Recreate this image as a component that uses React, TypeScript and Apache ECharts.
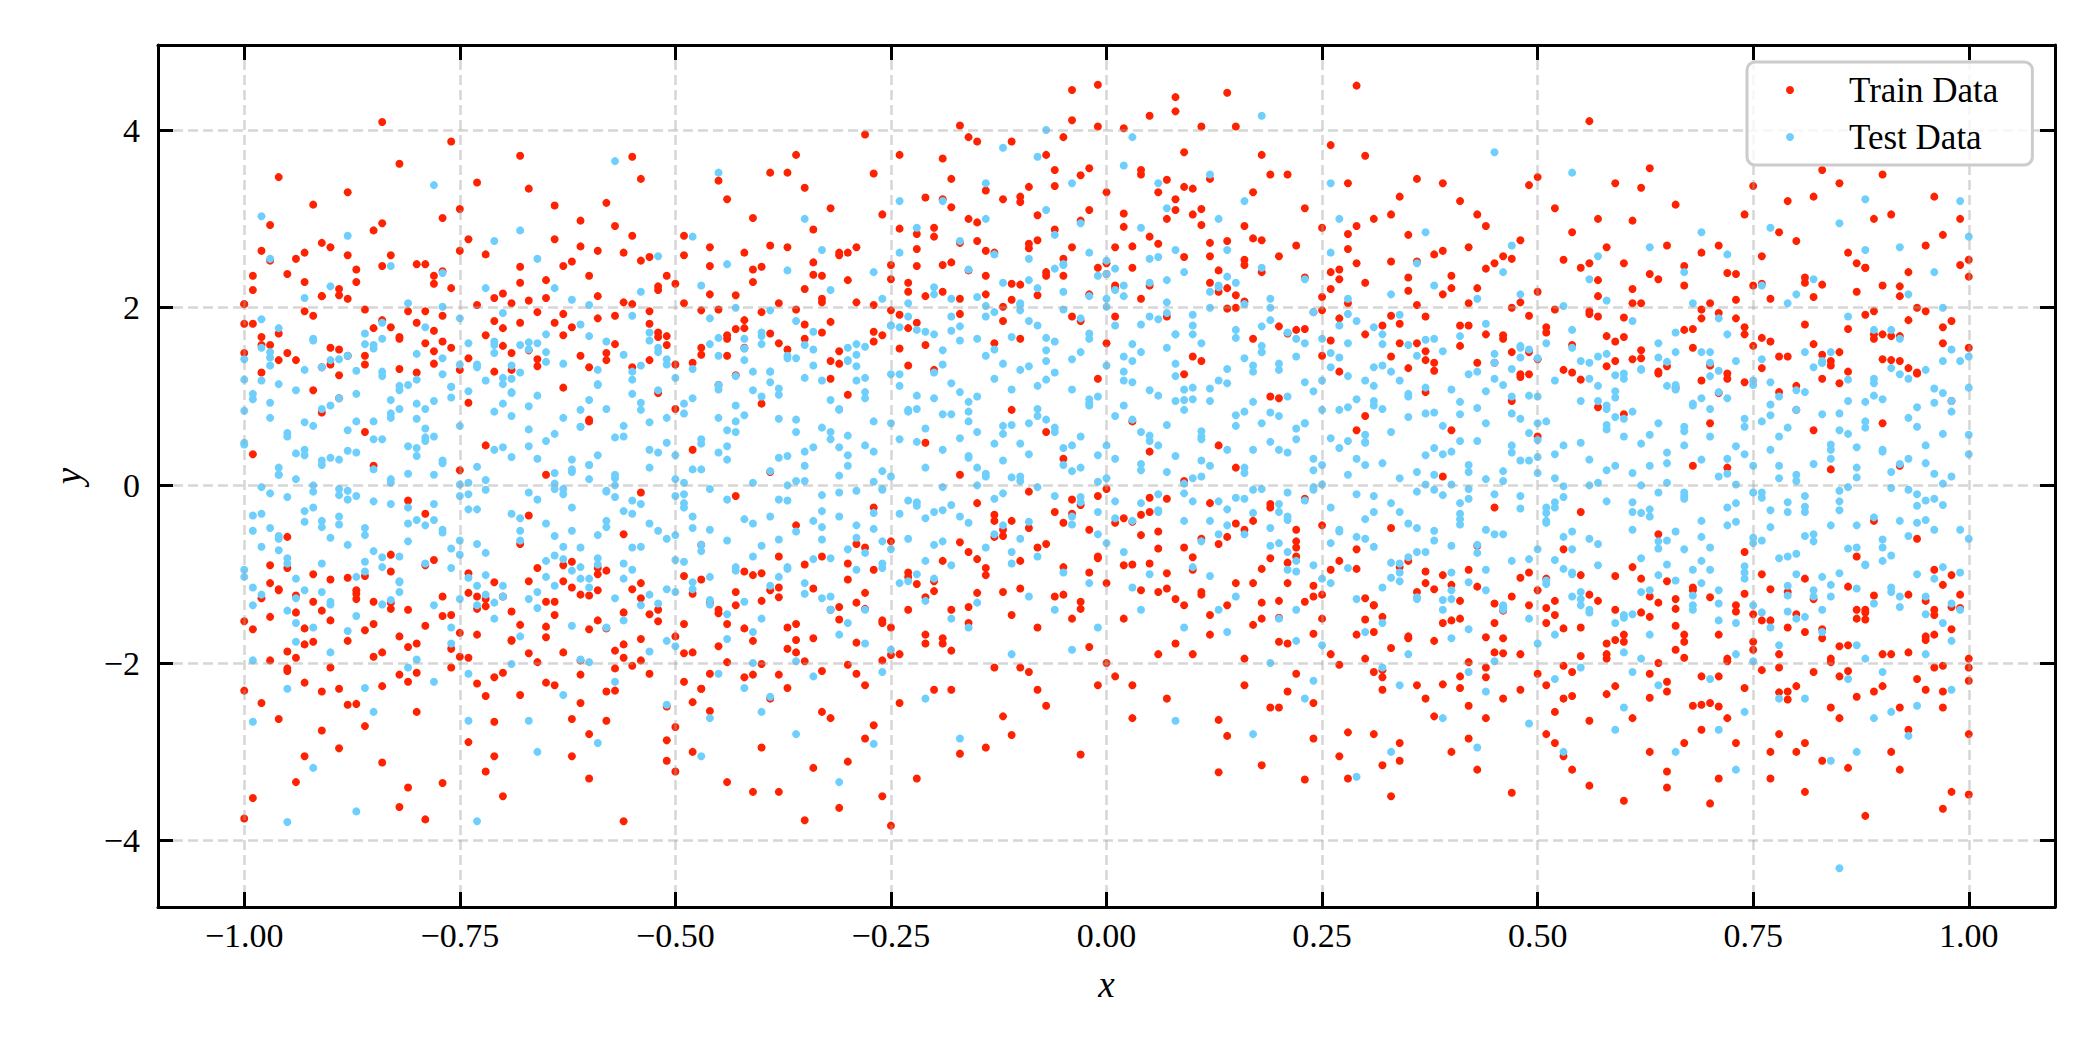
import { useEffect, useRef } from "react";
import * as echarts from "echarts";

// Values are in hundredths: [x, y, x, y, ...]
const trainXY: number[] = [
  -97,158,-92,-131,-100,204,-95,-187,-91,273,-98,-245,-94,141,-99,-162,-93,229,-96,-118,-91,-276,-99,182,-95,-209,-92,316,-97,-148,-94,255,-100,-231,-96,171,-93,-305,-98,127,-92,-176,-95,238,-91,-141,-99,-352,-97,293,-94,-194,-100,149,-96,-263,-93,196,-98,-127,-91,82,-95,-58,-99,35,-92,107,-97,-90,-94,-334,-96,347,-93,-222,-98,264,-100,-375,-91,213,
  -86,146,-83,-139,-89,221,-81,-182,-85,287,-88,-247,-82,167,-87,-118,-84,409,-90,-205,-83,259,-86,-163,-81,196,-89,-296,-85,-131,-88,330,-84,-226,-82,131,-87,243,-90,-152,-86,-271,-83,178,-81,-340,-89,153,-85,-193,-88,210,-82,-362,-84,295,-87,-128,-90,268,-86,60,-83,-78,-81,-17,-89,98,-85,22,-88,-104,-84,-312,-82,362,-87,-246,-90,136,
  -78,137,-74,-121,-80,249,-76,-205,-72,169,-79,-158,-75,311,-71,-266,-77,191,-73,-139,-80,-178,-76,222,-72,-237,-78,151,-74,277,-79,-376,-71,128,-75,-193,-77,-335,-73,341,-80,183,-76,-146,-72,-322,-78,236,-74,-289,-79,160,-71,-216,-75,264,-77,-125,-73,203,-80,-255,-76,387,-72,45,-78,-84,-74,93,-79,-32,-71,-305,-75,17,-77,301,-73,-168,
  -67,152,-63,-108,-70,216,-65,-171,-61,298,-68,-236,-64,183,-69,-142,-62,252,-66,-199,-70,-125,-67,334,-63,169,-60,-280,-65,231,-68,-157,-61,-213,-64,277,-69,130,-62,-263,-66,195,-70,-350,-67,-189,-63,247,-65,-131,-61,146,-68,371,-64,-225,-69,205,-62,-305,-66,-93,-60,74,-67,-34,-63,110,-65,12,-68,-66,-61,-245,-64,315,-69,-174,-62,178,
  -58,141,-54,-127,-60,236,-56,-194,-52,172,-59,-152,-55,281,-51,-249,-57,159,-53,-212,-60,-330,-56,206,-52,-140,-58,318,-54,-173,-59,188,-51,-287,-55,133,-57,-231,-53,257,-60,-162,-56,-378,-52,224,-58,-265,-54,345,-59,-118,-51,168,-55,-203,-57,292,-53,-145,-60,72,-56,-55,-52,104,-58,-96,-54,-8,-59,264,-51,-310,-55,370,-57,-186,-53,196,
  -47,147,-43,-135,-50,227,-45,-181,-41,301,-48,-244,-44,169,-49,-156,-42,262,-46,-212,-50,-322,-47,197,-43,-120,-41,-345,-45,343,-48,138,-44,-199,-49,281,-42,-161,-46,215,-50,-272,-47,-229,-43,176,-45,-144,-41,243,-48,-300,-44,322,-49,-189,-42,155,-46,-254,-50,86,-47,-67,-43,-12,-45,113,-41,-101,-48,40,-44,-334,-49,205,-46,268,-42,-216,
  -38,160,-34,-116,-40,246,-36,-188,-32,312,-39,-240,-35,181,-31,-151,-37,268,-33,-209,-40,-130,-36,372,-32,-262,-38,205,-34,-172,-39,352,-31,151,-35,-377,-37,-228,-33,236,-40,-295,-36,198,-32,-140,-38,-345,-34,288,-39,171,-31,-363,-35,-198,-37,352,-33,-255,-40,92,-36,-45,-32,120,-38,-80,-34,-318,-39,15,-31,262,-35,335,-37,-160,-33,210,
  -27,173,-23,-98,-30,262,-25,-160,-21,324,-28,-225,-24,192,-29,-132,-22,283,-26,-197,-30,-311,-27,351,-23,-140,-21,-178,-25,232,-28,395,-24,-245,-29,206,-22,-330,-26,305,-30,-106,-27,-270,-23,218,-25,-383,-21,158,-28,-121,-24,372,-29,-212,-22,247,-26,-152,-30,102,-27,-25,-23,135,-25,-63,-21,48,-28,-285,-24,-190,-29,268,-22,183,-26,-350,
  -17,210,-13,-58,-20,290,-15,-121,-11,387,-18,-186,-14,236,-19,-85,-12,322,-16,-155,-20,-230,-17,-302,-13,262,-11,-40,-15,387,-18,345,-14,-295,-19,248,-12,-260,-16,392,-20,-108,-17,405,-13,-205,-15,275,-11,-281,-18,-140,-14,215,-19,368,-12,185,-16,-75,-20,130,-17,12,-13,160,-15,-20,-11,85,-18,-230,-14,332,-19,-178,-12,-120,-16,300,
  -7,240,-3,-22,-10,325,-5,-92,-1,404,-8,-160,-4,268,-9,-48,-2,357,-6,-125,-10,-205,-7,-248,-3,298,-1,-82,-5,392,-1,451,-4,445,-9,272,-2,-182,-4,411,-10,-116,-7,372,-3,-303,-5,236,-1,-225,-8,-230,-4,190,-9,336,-2,215,-6,-30,-10,165,-7,60,-3,185,-5,30,-1,120,-8,-70,-4,-150,-9,-210,-2,310,-6,355,
  3,245,7,-15,0,330,5,-88,9,375,2,-150,6,272,1,-42,8,437,4,-118,0,-200,3,-262,7,300,9,-70,5,416,8,421,2,402,1,268,6,-190,4,350,0,-110,3,-225,7,-240,5,225,9,-135,2,-37,6,330,1,190,8,-178,4,-56,0,160,3,72,7,190,5,38,9,125,2,-90,6,-120,1,-215,8,310,4,210,
  13,218,17,-40,10,305,15,-110,19,350,12,-168,16,254,11,-60,18,372,14,-135,10,-190,13,-323,17,278,19,-82,15,404,11,404,14,442,12,228,16,-225,18,-315,10,-95,13,-264,17,330,15,200,19,-250,12,-20,16,292,11,140,18,-150,14,-282,10,145,13,45,17,165,15,20,19,100,12,345,16,-195,11,-120,18,240,14,275,
  23,176,27,-85,20,258,25,-150,29,450,22,-212,26,383,21,-110,28,205,24,-285,20,-130,23,-331,27,232,29,-72,25,290,21,350,24,-245,22,175,26,-190,28,-278,20,-250,23,312,27,-305,25,146,29,-168,22,-50,26,240,21,-232,28,340,24,-125,20,98,23,-15,27,128,25,-45,29,62,22,270,26,-95,21,-178,28,-330,24,195,
  33,145,37,-110,30,228,35,-172,39,340,32,-230,36,345,31,-135,38,260,34,-290,30,371,33,-350,37,190,39,-155,35,282,31,-210,34,160,32,-315,36,-120,38,-260,30,-195,33,305,37,-240,35,132,39,215,32,-148,36,252,31,-280,38,-175,34,325,30,78,33,-48,37,105,35,-85,39,10,32,180,36,-225,31,300,38,138,34,-310,
  43,138,47,-125,40,222,45,-188,49,338,42,-248,46,165,41,-150,48,276,44,-205,40,-300,43,305,47,-346,49,-135,45,250,41,180,44,-262,42,268,46,-172,48,-230,40,-112,43,-320,47,200,45,-155,49,150,42,-285,46,258,41,-215,48,125,44,292,40,62,43,-68,47,95,45,-25,49,-98,42,205,46,-240,41,320,48,-190,44,170,
  53,130,57,-130,50,218,55,-192,59,340,52,-255,56,410,51,-155,58,268,54,-210,50,347,53,-305,57,190,59,-140,55,245,51,-280,54,158,52,312,56,-338,58,-235,50,-118,53,-240,57,300,55,-160,59,140,52,-290,56,250,51,-225,58,-178,54,285,50,55,53,-72,57,88,55,-30,59,-102,52,198,56,-265,51,172,58,-195,54,-320,
  61,142,68,-118,64,232,60,-176,66,316,63,-239,69,188,62,-143,67,-290,65,270,60,-355,64,-200,68,155,61,-262,66,-128,63,357,69,-215,62,205,67,-168,65,-322,60,250,64,128,68,-248,61,298,66,-185,63,-300,69,262,62,-105,67,175,65,-232,60,80,64,-55,68,22,61,-92,66,110,63,-148,69,-275,62,335,67,225,65,-340,
  72,120,76,-152,70,205,74,-228,78,285,71,-168,75,337,79,-120,73,238,77,-300,70,-358,74,170,78,-205,72,-262,76,258,79,145,71,-330,75,-185,73,-135,77,210,70,-245,74,305,78,-280,72,-198,76,132,79,-232,71,270,75,-145,73,188,77,-330,70,70,74,-75,78,105,72,20,76,-100,79,320,71,-215,75,225,73,-290,77,162,
  84,135,80,-145,87,218,82,-210,89,300,81,-165,85,-262,83,355,88,-372,86,176,80,-300,84,-195,87,250,82,-128,89,-232,81,228,85,150,83,-310,88,192,86,-180,80,275,84,-250,87,-150,82,325,89,165,81,-290,85,-215,83,120,88,-140,86,262,80,85,84,18,87,-80,82,62,89,-40,81,-345,85,340,83,-172,88,245,86,-318,
  92,140,96,-140,90,225,94,-218,98,-345,91,305,95,-170,99,248,93,-275,97,160,90,-190,97,-364,98,185,92,-250,96,325,99,-123,91,-300,95,270,93,132,97,-232,90,350,94,200,98,-162,92,-320,96,-205,99,300,91,168,95,-130,93,-188,97,282,100,-280,100,155,100,-220,90,70,94,-60,98,95,92,22,96,-95,100,-348,93,240,97,-250,100,-195,100,235,
];

// Dense red band just outside the blue core, hundredths [x, y, ...]
const trainBand: number[] = [
  -91,133,-96,-117,-99,220,-93,-161,-98,158,-95,-206,-100,182,-92,-100,-97,253,-94,-143,-96,141,-91,-232,-100,204,-94,-124,-98,167,-93,-179,-99,236,-95,-93,-92,191,-97,-197,-95,149,-100,-153,-93,262,-97,-110,-91,213,
  -90,-106,-85,177,-82,-170,-88,146,-81,-221,-87,229,-83,-132,-89,124,-84,-188,-86,198,-83,-97,-88,259,-85,-156,-90,155,-82,-213,-86,136,-81,-140,-89,214,-87,-122,-84,247,-88,-175,-82,165,-86,-102,-84,186,-89,-229,
  -77,241,-72,-128,-80,127,-74,-194,-79,196,-71,-109,-76,155,-73,-223,-78,174,-75,-166,-72,260,-79,-90,-74,143,-77,-147,-71,211,-80,-211,-75,130,-73,-125,-78,227,-76,-184,-71,185,-74,-99,-79,249,-72,-136,-77,162,
  -64,-146,-69,149,-61,-197,-67,208,-63,-90,-70,177,-65,-222,-68,246,-62,-115,-66,134,-69,-175,-63,193,-67,-108,-61,269,-65,-159,-70,157,-62,-86,-68,228,-64,-131,-66,142,-70,-211,-65,211,-61,-123,-68,183,-63,-188,
  -60,133,-55,-117,-52,220,-58,-161,-51,158,-57,-206,-53,182,-59,-100,-54,253,-56,-143,-53,141,-58,-232,-55,204,-60,-124,-52,167,-56,-179,-51,236,-59,-93,-57,191,-54,-197,-58,149,-52,-153,-56,262,-54,-110,-59,213,
  -47,-106,-42,177,-50,-170,-44,146,-49,-221,-41,229,-46,-132,-43,124,-48,-188,-45,198,-42,-97,-49,259,-44,-156,-47,155,-41,-213,-50,136,-45,-140,-43,214,-48,-122,-46,247,-41,-175,-44,165,-49,-102,-42,186,-47,-229,
  -34,251,-39,-118,-31,137,-37,-184,-33,206,-40,-99,-35,165,-38,-213,-32,184,-36,-156,-39,270,-33,-80,-37,153,-31,-137,-35,221,-40,-201,-32,140,-38,-115,-34,237,-36,-174,-40,195,-35,-89,-31,259,-38,-126,-33,172,
  -21,-126,-26,169,-29,-177,-23,228,-28,-70,-25,197,-30,-202,-22,266,-27,-95,-24,154,-26,-155,-21,213,-30,-88,-24,289,-28,-139,-23,177,-29,-66,-25,248,-22,-111,-27,162,-25,-191,-30,231,-23,-103,-27,203,-21,-168,
  -17,193,-12,-57,-20,280,-14,-101,-19,218,-11,-146,-16,242,-13,-40,-18,313,-15,-83,-12,201,-19,-172,-14,264,-17,-64,-11,227,-20,-119,-15,296,-13,-33,-18,251,-16,-137,-11,209,-14,-93,-19,322,-12,-50,-17,273,
  -4,-16,-9,267,-1,-80,-7,236,-3,-131,-10,319,-5,-42,-8,214,-2,-98,-6,288,-9,-7,-3,349,-7,-66,-1,245,-5,-123,-10,226,-2,-50,-8,304,-4,-32,-6,337,-10,-85,-5,255,-1,-12,-8,276,-3,-139,
  9,336,4,-33,1,222,7,-99,2,291,5,-14,0,250,8,-128,3,269,6,-71,4,355,9,5,0,238,6,-52,2,306,7,-116,1,225,5,-30,8,322,3,-89,5,280,0,-4,7,344,3,-41,9,257,
  10,-81,15,214,18,-132,12,273,19,-25,13,242,17,-157,11,311,16,-50,14,199,17,-110,12,258,15,-43,10,334,18,-94,14,222,19,-21,11,293,13,-66,16,207,12,-146,18,276,14,-58,16,248,11,-123,
  26,163,21,-87,29,250,23,-131,27,188,20,-176,25,212,22,-70,28,283,24,-113,21,171,27,-202,23,234,29,-94,25,197,20,-149,28,266,22,-63,26,221,24,-167,20,179,25,-123,29,292,22,-80,27,243,
  39,-101,34,182,31,-165,37,151,32,-216,35,234,30,-127,38,129,33,-183,36,203,34,-92,39,264,30,-151,36,160,32,-208,37,141,31,-135,35,219,38,-117,33,252,35,-170,30,170,37,-97,33,191,39,-224,
  40,236,45,-133,48,122,42,-199,49,191,43,-114,47,150,41,-228,46,169,44,-171,47,255,42,-95,45,138,40,-152,48,206,44,-216,49,125,41,-130,43,222,46,-189,42,180,48,-104,44,244,46,-141,41,157,
  53,-161,58,134,50,-212,56,193,51,-105,59,162,54,-237,57,231,52,-130,55,119,58,-190,51,178,56,-123,53,254,59,-174,50,142,55,-101,57,213,52,-146,54,127,59,-226,56,196,51,-138,58,168,53,-203,
  69,118,64,-132,61,205,67,-176,62,143,65,-221,60,167,68,-115,63,238,66,-158,64,126,69,-247,60,189,66,-139,62,152,67,-194,61,221,65,-108,68,176,63,-212,65,134,60,-168,67,247,63,-125,69,198,
  70,-126,75,157,78,-190,72,126,79,-241,73,209,77,-152,71,104,76,-208,74,178,77,-117,72,239,75,-176,70,135,78,-233,74,116,79,-160,71,194,73,-142,76,227,72,-195,78,145,74,-122,76,166,71,-249,
  83,226,88,-143,80,112,86,-209,81,181,89,-124,84,140,87,-238,82,159,85,-181,88,245,81,-105,86,128,83,-162,89,196,80,-226,85,115,87,-140,82,212,84,-199,89,170,86,-114,81,234,88,-151,83,147,
  96,-168,91,141,100,-205,93,186,97,-112,90,170,95,-230,92,224,98,-137,94,126,91,-190,97,178,93,-123,100,254,95,-174,90,142,98,-101,92,213,96,-146,94,127,90,-226,95,196,99,-138,92,168,97,-203,
];

const testXY: number[] = [
  -96,12,-99,-34,-93,71,-91,-88,-98,118,-95,-141,-100,46,-92,165,-97,-9,-94,-176,-99,97,-91,28,-96,-57,-93,-118,-98,187,-95,59,-100,-103,-92,-25,-97,144,-94,-155,-99,-197,-91,133,-96,-73,-93,211,-98,-2,-95,-229,-100,84,-92,-160,-97,255,-94,36,-99,-266,-91,-120,-96,177,-93,-41,-98,303,-95,-379,-92,-318,-97,-48,
  -88,-6,-84,52,-81,-63,-87,103,-83,-129,-90,31,-85,158,-89,-44,-82,86,-86,-97,-84,183,-81,13,-88,-164,-83,-21,-87,129,-90,-188,-85,72,-82,-108,-89,142,-86,-228,-81,205,-84,-81,-88,39,-83,247,-87,-147,-90,-59,-85,-255,-82,112,-89,-11,-86,171,-81,-205,-84,-134,-88,281,-83,96,-87,-367,-90,224,-85,-18,
  -77,25,-73,-66,-80,119,-75,-12,-71,83,-78,-135,-74,160,-79,54,-72,-101,-76,-178,-80,-39,-73,136,-77,201,-71,-150,-75,67,-78,-221,-74,3,-79,178,-72,-76,-76,111,-80,-196,-73,-27,-77,239,-71,40,-75,-128,-78,95,-74,-265,-79,-88,-72,222,-76,-160,-80,148,-73,-378,-77,-53,-71,275,-75,188,-78,338,-74,-212,
  -66,30,-62,-51,-69,104,-64,-113,-60,168,-67,-8,-63,137,-68,-170,-61,66,-65,-85,-70,194,-66,-138,-62,15,-69,-32,-64,222,-67,89,-61,-196,-65,150,-68,-62,-63,-236,-70,43,-66,255,-62,-158,-69,120,-64,-4,-67,-265,-61,181,-65,-103,-68,287,-63,76,-70,-125,-66,-300,-62,209,-69,-201,-64,58,-67,161,-61,-70,
  -57,8,-53,71,-59,-56,-55,128,-51,-117,-58,162,-54,-21,-60,96,-56,-152,-52,37,-59,-89,-55,191,-51,-175,-57,54,-53,-43,-60,-199,-56,147,-52,-133,-58,-6,-54,218,-59,113,-51,-247,-55,-70,-57,-221,-53,172,-60,23,-56,-105,-52,258,-58,-160,-54,85,-59,-290,-55,-17,-51,136,-57,365,-53,-187,-60,203,
  -48,18,-44,-62,-50,121,-46,-129,-42,79,-49,-20,-45,166,-41,-165,-47,47,-43,-96,-50,-181,-46,188,-42,-38,-48,131,-44,-145,-49,92,-41,3,-45,-212,-47,225,-43,60,-50,-84,-46,-262,-42,154,-48,-117,-44,249,-49,-10,-41,-200,-45,108,-47,-305,-43,200,-50,34,-46,-50,-42,-228,-48,280,-44,-173,-45,352,
  -37,33,-33,-47,-39,128,-35,-110,-31,86,-38,-16,-34,173,-40,-150,-36,60,-32,-82,-39,197,-35,5,-31,-168,-37,143,-33,-127,-40,100,-36,-198,-32,220,-38,-61,-34,43,-39,-238,-35,158,-31,-8,-37,-92,-33,265,-40,-255,-36,185,-32,-140,-38,75,-34,-215,-31,-334,-35,300,-39,-35,-37,242,-33,118,-36,-280,
  -28,45,-24,-32,-30,140,-26,-88,-22,101,-29,-6,-25,180,-21,-130,-27,72,-23,-60,-30,-155,-26,210,-22,-19,-28,156,-24,-110,-29,118,-21,20,-25,-185,-27,240,-23,85,-30,-72,-26,-210,-22,175,-28,-140,-24,262,-29,-45,-21,-240,-25,125,-27,-291,-23,205,-30,56,-26,-4,-22,290,-28,-178,-24,320,-29,-95,
  -18,80,-14,10,-20,170,-16,-42,-12,137,-19,40,-15,212,-11,-88,-17,105,-13,-15,-20,-105,-16,243,-12,58,-18,190,-14,-70,-19,152,-11,68,-15,-132,-17,275,-13,120,-20,-30,-16,-160,-12,228,-18,-90,-14,300,-19,-2,-11,-190,-15,165,-17,-285,-13,260,-20,98,-16,33,-12,380,-18,-150,-14,340,-19,320,
  -8,112,-4,45,-10,205,-6,-12,-2,165,-9,70,-5,248,-1,-55,-7,140,-3,20,-10,-60,-6,282,-2,90,-8,222,-4,-35,-9,185,-1,100,-5,-98,-7,310,-3,150,-10,5,-6,-140,-2,262,-8,-80,-4,340,-9,35,-1,-160,-5,198,-7,400,-3,295,-10,130,-6,60,-2,-110,-8,370,-4,-185,-9,-125,
  2,118,6,45,0,210,4,-20,8,170,1,78,5,255,9,-40,3,140,7,15,0,-65,4,290,8,95,2,225,6,-30,1,180,9,108,5,-100,3,392,7,155,0,8,4,-140,8,265,2,-75,6,340,1,30,9,-160,5,190,3,-115,7,312,0,135,4,60,8,-265,2,360,6,-10,9,240,
  12,95,16,20,10,180,14,-45,18,150,11,52,15,228,19,-68,13,118,17,-5,10,-92,14,265,18,70,12,200,16,-55,11,160,19,82,15,-125,13,300,17,135,10,-18,14,-165,18,245,12,-102,16,320,11,10,19,-200,15,175,13,-140,17,-280,10,110,14,40,18,416,12,350,16,-15,19,210,
  22,52,26,-25,20,130,24,-90,28,88,21,-8,25,165,29,-128,23,70,27,-50,20,-150,24,195,28,12,22,145,26,-110,21,100,29,30,25,-180,23,232,27,85,20,-65,24,-220,28,160,22,-140,26,262,21,-35,29,-328,25,118,23,-240,27,300,20,40,24,-5,28,210,22,-175,26,340,21,-95,
  32,25,36,-48,30,118,34,-108,38,82,31,-12,35,158,39,-140,33,60,37,-75,30,-165,34,192,38,-5,32,135,36,-128,31,90,39,35,35,-190,33,215,37,110,30,-60,34,-225,38,165,32,-155,36,250,31,-30,39,-262,35,100,33,-300,37,285,30,48,34,-88,38,225,32,-205,36,15,31,178,
  42,15,46,-55,40,108,44,-118,48,75,41,-20,45,148,49,-150,43,50,47,-85,40,-172,44,182,48,-12,42,125,46,-135,41,80,49,28,45,-198,43,210,47,100,40,-68,44,-232,48,155,42,-162,46,240,41,-38,49,-268,45,375,43,-295,47,270,40,38,44,-95,48,215,42,-210,46,5,41,168,
  52,8,56,-60,50,100,54,-125,58,68,51,-25,55,140,59,-155,53,45,57,-90,50,-178,54,175,58,-18,52,118,56,-140,51,72,59,22,55,-205,53,202,57,95,50,-72,54,352,58,148,52,-168,56,232,51,-42,59,-275,55,95,53,-300,57,258,50,32,54,-100,58,208,52,-218,56,0,51,160,
  64,-8,60,55,67,-72,62,130,69,-110,65,25,61,-145,68,90,63,-35,66,172,60,-188,67,-15,62,-120,69,150,64,70,61,-210,66,-52,68,205,63,-168,65,112,60,-250,67,240,62,0,69,-85,64,-225,61,185,66,-300,68,-140,63,268,65,-62,60,120,67,45,62,-195,69,285,64,160,61,-30,
  73,-20,77,40,70,-95,75,118,79,-142,71,10,76,-62,72,170,78,-180,74,75,70,-218,77,-28,73,140,79,205,71,-118,75,-198,72,-45,78,100,74,-255,76,225,70,55,77,-160,73,-320,79,-80,71,188,75,22,78,-240,72,260,74,-105,76,-8,70,150,77,290,73,-190,79,65,71,-275,75,-135,
  81,-12,85,62,88,-90,83,138,80,-150,87,20,84,-45,89,175,82,-118,86,95,80,215,88,-195,84,40,81,-240,87,-70,83,-165,89,120,85,-28,82,232,86,-218,80,5,88,265,84,-125,81,150,87,-300,85,-431,83,80,89,-262,82,-55,86,190,80,-100,88,322,84,-310,81,105,87,-180,85,295,
  93,-5,97,58,90,-85,95,130,99,-140,91,15,96,-50,92,165,98,-175,94,88,90,-210,97,-22,93,215,99,140,91,-120,95,-190,92,-40,98,95,94,-248,96,240,90,40,97,-155,93,-282,99,320,91,175,95,25,98,-230,92,268,94,-100,96,-15,100,110,100,-60,100,35,97,200,91,-255,95,-125,100,280,
];

// Dense blue core, hundredths [x, y, ...]
const testCore: number[] = [
  -96,20,-91,-47,-99,103,-94,-105,-98,155,-92,0,-100,48,-95,-82,-97,135,-93,-29,-91,86,-98,-123,-94,7,-100,119,-96,-60,-92,67,-99,-135,-93,34,-97,150,-95,-13,-100,-95,-94,107,-91,-40,-97,76,-99,-115,-92,163,-96,12,-98,-69,-93,130,-95,55,-99,-51,-91,23,-94,-127,-97,93,-92,-7,-100,142,-95,-88,-93,40,-98,-32,-96,114,
  -83,3,-88,62,-85,-74,-90,141,-82,-120,-87,37,-81,-43,-89,98,-84,-92,-86,159,-88,-16,-83,81,-90,-131,-85,18,-81,113,-86,-56,-84,128,-89,-4,-82,-109,-87,72,-85,52,-82,-80,-88,146,-81,-25,-90,90,-83,7,-87,-103,-84,165,-89,29,-86,-48,-82,107,-90,-134,-87,-12,-84,123,-88,-67,-81,44,-86,-86,-83,76,-85,154,-89,-35,
  -79,86,-74,-10,-77,125,-72,-123,-80,33,-75,-62,-71,158,-78,-39,-73,21,-76,111,-74,-104,-79,50,-72,6,-77,143,-75,-78,-80,75,-71,-132,-76,99,-78,-21,-73,133,-77,-50,-71,162,-75,1,-79,64,-73,-113,-80,42,-76,-71,-72,118,-74,-27,-78,12,-71,149,-76,-93,-80,92,-73,-135,-77,28,-74,106,-79,-45,-75,136,-72,-5,-78,55,
  -62,-25,-67,153,-64,-79,-69,32,-61,85,-66,-120,-70,121,-63,-10,-68,-51,-65,170,-67,44,-62,-96,-69,105,-64,14,-70,-113,-61,66,-65,139,-68,-37,-63,-69,-66,160,-64,2,-70,92,-61,-105,-66,-16,-68,127,-62,29,-63,-83,-69,78,-67,-128,-65,50,-70,114,-64,-57,-68,158,-62,18,-65,-43,-69,135,-61,-92,-67,63,-66,101,-63,-4,
  -53,20,-58,-47,-55,103,-60,-105,-52,155,-57,0,-51,48,-59,-82,-54,135,-56,-29,-58,86,-53,-123,-60,7,-55,119,-51,-60,-56,67,-54,-135,-59,34,-52,150,-57,-13,-55,-95,-52,107,-58,-40,-51,76,-60,-115,-53,163,-57,12,-54,-69,-59,130,-56,55,-52,-51,-60,23,-57,-127,-54,93,-58,-7,-51,142,-56,-88,-53,40,-55,-32,-59,114,
  -49,3,-44,62,-47,-74,-42,141,-50,-120,-45,37,-41,-43,-48,98,-43,-92,-46,159,-44,-16,-49,81,-42,-131,-47,18,-45,113,-50,-56,-41,128,-46,-4,-48,-109,-43,72,-47,52,-41,-80,-45,146,-49,-25,-43,90,-50,7,-46,-103,-42,165,-44,29,-48,-48,-41,107,-46,-134,-50,-12,-43,123,-47,-67,-44,44,-49,-86,-45,76,-42,154,-48,-35,
  -32,96,-37,0,-34,135,-39,-113,-31,43,-36,-52,-40,168,-33,-29,-38,31,-35,121,-37,-94,-32,60,-39,16,-34,153,-40,-68,-31,85,-35,-122,-38,109,-33,-11,-36,143,-34,-40,-40,172,-31,11,-36,74,-38,-103,-32,52,-33,-61,-39,128,-37,-17,-35,22,-40,159,-34,-83,-38,102,-32,-125,-35,38,-39,116,-31,-35,-37,146,-36,5,-33,65,
  -26,-5,-21,173,-29,-59,-24,52,-28,105,-22,-100,-30,141,-25,10,-27,-31,-23,190,-21,64,-28,-76,-24,125,-30,34,-26,-93,-22,86,-29,159,-23,-17,-27,-49,-25,180,-30,22,-24,112,-21,-85,-27,4,-29,147,-22,49,-26,-63,-28,98,-23,-108,-25,70,-29,134,-21,-37,-24,178,-27,38,-22,-23,-30,155,-25,-72,-23,83,-28,121,-26,16,
  -19,80,-14,13,-17,163,-12,-45,-20,215,-15,60,-11,108,-18,-22,-13,195,-16,31,-14,146,-19,-63,-12,67,-17,179,-15,0,-20,127,-11,-75,-16,94,-18,210,-13,47,-17,-35,-11,167,-15,20,-19,136,-13,-55,-20,223,-16,72,-12,-9,-14,190,-18,115,-11,9,-16,83,-20,-67,-13,153,-17,53,-14,202,-19,-28,-15,100,-12,28,-18,174,
  -2,93,-7,152,-4,16,-9,231,-1,-30,-6,127,-10,47,-3,188,-8,-2,-5,249,-7,74,-2,171,-9,-41,-4,108,-10,203,-1,34,-5,218,-8,86,-3,-19,-6,162,-4,142,-10,10,-1,236,-6,65,-8,180,-2,97,-3,-13,-9,255,-7,119,-5,42,-10,197,-4,-44,-8,78,-2,213,-5,23,-9,134,-1,4,-7,166,-6,244,-3,55,
  4,181,9,85,1,220,6,-28,2,128,8,33,0,253,5,56,3,116,7,206,9,-9,2,145,6,101,0,238,4,17,8,170,1,-37,7,194,3,74,5,228,0,45,6,257,9,96,3,159,1,-18,8,137,4,24,2,213,7,68,5,107,1,244,9,2,6,187,3,-40,8,123,0,201,5,50,7,231,2,90,4,150,
  17,40,12,218,15,-14,10,97,18,150,13,-55,19,186,11,55,16,14,14,235,12,109,17,-31,10,170,15,79,19,-48,14,131,16,204,11,28,18,-4,13,225,15,67,18,157,12,-40,19,49,10,192,17,94,13,-18,16,143,11,-63,14,115,18,179,10,8,13,223,16,83,12,22,19,200,14,-27,17,128,15,166,11,61,
  28,50,23,-17,26,133,21,-75,29,185,24,30,20,78,27,-52,22,165,25,1,23,116,28,-93,21,37,26,149,20,-30,29,97,25,-105,22,64,27,180,24,17,26,-65,20,137,29,-10,24,106,22,-85,28,193,27,42,21,-39,23,160,25,85,20,-21,26,53,22,-97,28,123,25,23,21,172,29,-58,23,70,24,-2,27,144,
  34,8,39,67,31,-69,36,146,32,-115,38,42,30,-38,35,103,33,-87,37,164,39,-11,32,86,36,-126,30,23,34,118,38,-51,31,133,37,1,33,-104,35,77,30,57,36,-75,39,151,33,-20,31,95,38,12,34,-98,32,170,37,34,35,-43,31,112,39,-129,36,-7,33,128,38,-62,30,49,35,-81,37,81,32,159,34,-30,
  47,81,42,-15,45,120,40,-128,48,28,43,-67,49,153,41,-44,46,16,44,106,42,-109,47,45,40,1,45,138,49,-83,44,70,46,-137,41,94,48,-26,43,128,45,-55,48,157,42,-4,49,59,40,-118,47,37,43,-76,46,113,41,-32,44,7,48,144,40,-98,43,87,46,-140,42,23,49,101,44,-50,47,131,45,-10,41,50,
  51,-40,56,138,53,-94,58,17,50,70,55,-135,59,106,52,-25,57,-66,54,155,56,29,51,-111,58,90,53,-1,55,-128,50,51,59,124,54,-52,52,-84,57,145,53,-13,59,77,55,-120,51,-31,57,112,50,14,54,-98,58,63,56,-143,52,35,59,99,54,-72,50,143,57,3,53,-58,56,120,51,-107,55,48,58,86,52,-19,
  67,-12,62,47,65,-89,60,126,68,-135,63,22,69,-58,61,83,66,-107,64,144,62,-31,67,66,60,-146,65,3,69,98,64,-71,66,113,61,-19,68,-124,63,57,65,37,68,-95,62,131,69,-40,60,75,67,-8,63,-118,66,150,61,14,64,-63,68,92,60,-149,63,-27,66,108,62,-82,69,29,64,-101,67,61,65,139,61,-50,
  74,66,79,-30,71,105,76,-143,72,13,78,-82,70,138,75,-59,73,1,77,91,79,-124,72,30,76,-14,70,123,74,-98,78,55,71,-152,77,79,73,-41,75,113,70,-70,76,142,79,-19,73,44,71,-133,78,22,74,-91,72,98,77,-47,75,-8,71,129,79,-113,76,72,73,-155,78,8,70,86,75,-65,77,116,72,-25,74,35,
  87,-45,82,133,85,-99,80,12,88,65,83,-140,89,101,81,-30,86,-71,84,150,82,24,87,-116,80,85,85,-6,89,-133,84,46,86,119,81,-57,88,-89,83,140,85,-18,88,72,82,-125,89,-36,80,107,87,9,83,-103,86,58,81,-148,84,30,88,94,80,-77,83,138,86,-2,82,-63,89,115,84,-112,87,43,85,81,81,-24,
  98,10,93,-57,96,93,91,-115,100,145,94,-10,90,38,97,-92,92,125,95,-39,93,76,98,-133,91,-3,96,109,90,-70,100,57,95,-145,92,24,97,140,94,-23,96,-105,90,97,99,-50,94,66,92,-125,98,153,97,2,91,-79,93,120,95,45,90,-61,96,13,92,-137,98,83,95,-17,91,132,99,-98,93,30,94,-42,97,104,
];

const seriesNames = ["Train Data", "Test Data"];
const seriesColors = ["#ff2200", "#6ecffc"];
const xTicks = [-1, -0.75, -0.5, -0.25, 0, 0.25, 0.5, 0.75, 1];
const yTicks = [-4, -2, 0, 2, 4];
const xRange = [-1.1, 1.1];
const yRange = [-4.746, 4.957];

const FONT = "'Liberation Serif', 'Times New Roman', serif";

function toPairs(flat: number[]): number[][] {
  const out: number[][] = [];
  for (let i = 0; i + 1 < flat.length; i += 2) out.push([flat[i] / 100, flat[i + 1] / 100]);
  return out;
}

function fmtX(v: number): string {
  const t = xTicks.find((k) => Math.abs(k - v) < 1e-6);
  if (t === undefined) return "";
  const s = Math.abs(t).toFixed(2);
  return t < 0 ? "\u2212" + s : s;
}
function fmtY(v: number): string {
  const t = yTicks.find((k) => Math.abs(k - v) < 1e-6);
  if (t === undefined) return "";
  return t < 0 ? "\u2212" + Math.abs(t) : String(t);
}

export default function App() {
  const ref = useRef<HTMLDivElement>(null);
  useEffect(() => {
    document.body.style.margin = "0";
    if (!ref.current) return;
    const chart = echarts.init(ref.current, undefined, { renderer: "svg" });
    const axisLine = { show: true, onZero: false, lineStyle: { color: "#000", width: 3 } };
    const axisTick = { show: true, inside: true, length: 15, lineStyle: { color: "#000", width: 3 } };
    const splitLine = {
      show: true,
      showMinLine: false,
      showMaxLine: false,
      lineStyle: { color: "rgba(165,165,165,0.45)", width: 2.5, type: [10, 5] },
    };
    const xCommon = {
      type: "value",
      min: xRange[0],
      max: xRange[1],
      minInterval: 0.25,
      maxInterval: 0.25,
      z: 5,
    };
    const yCommon = {
      type: "value",
      min: yRange[0],
      max: yRange[1],
      minInterval: 2,
      maxInterval: 2,
      z: 5,
    };
    chart.setOption({
      animation: false,
      backgroundColor: "#fff",
      grid: { left: 158, right: 45, top: 45, bottom: 143, containLabel: false, outerBoundsMode: "none" },
      legend: {
        data: seriesNames,
        orient: "vertical",
        left: 1747,
        top: 62,
        padding: [10, 34, 10, 39],
        itemGap: 11,
        itemWidth: 16,
        itemHeight: 8,
        icon: "circle",
        textStyle: { fontFamily: FONT, fontSize: 35, color: "#000", lineHeight: 36, padding: [0, 0, 0, 46] },
        backgroundColor: "rgba(255,255,255,0.8)",
        borderColor: "#cccccc",
        borderWidth: 3,
        borderRadius: 8,
        z: 10,
      },
      xAxis: [
        {
          ...xCommon,
          position: "bottom",
          axisLine,
          axisTick,
          splitLine,
          axisLabel: {
            show: true,
            margin: 11,
            color: "#000",
            fontFamily: FONT,
            fontSize: 34,
            formatter: fmtX,
            showMinLabel: false,
            showMaxLabel: false,
          },
          name: "x",
          nameLocation: "middle",
          nameGap: 59,
          nameTextStyle: { fontFamily: FONT, fontStyle: "italic", fontSize: 37, color: "#000" },
        },
        {
          ...xCommon,
          position: "top",
          axisLine,
          axisTick,
          splitLine: { show: false },
          axisLabel: { show: false },
        },
      ],
      yAxis: [
        {
          ...yCommon,
          position: "left",
          axisLine,
          axisTick,
          splitLine,
          axisLabel: {
            show: true,
            margin: 18,
            color: "#000",
            fontFamily: FONT,
            fontSize: 34,
            formatter: fmtY,
            showMinLabel: false,
            showMaxLabel: false,
          },
          name: "y",
          nameLocation: "middle",
          nameGap: 71,
          nameTextStyle: { fontFamily: FONT, fontStyle: "italic", fontSize: 37, color: "#000" },
        },
        {
          ...yCommon,
          position: "right",
          axisLine,
          axisTick,
          splitLine: { show: false },
          axisLabel: { show: false },
        },
      ],
      series: [
        {
          type: "scatter",
          name: seriesNames[0],
          data: toPairs(trainXY.concat(trainBand)),
          symbol: "circle",
          symbolSize: 8,
          large: false,
          itemStyle: { color: seriesColors[0], opacity: 1 },
          xAxisIndex: 0,
          yAxisIndex: 0,
          z: 2,
          emphasis: { disabled: true },
        },
        {
          type: "scatter",
          name: seriesNames[1],
          data: toPairs(testXY.concat(testCore)),
          symbol: "circle",
          symbolSize: 8,
          large: false,
          itemStyle: { color: seriesColors[1], opacity: 1 },
          xAxisIndex: 0,
          yAxisIndex: 0,
          z: 3,
          emphasis: { disabled: true },
        },
      ],
    });
    return () => chart.dispose();
  }, []);
  return <div ref={ref} style={{ width: 2100, height: 1050 }} />;
}
